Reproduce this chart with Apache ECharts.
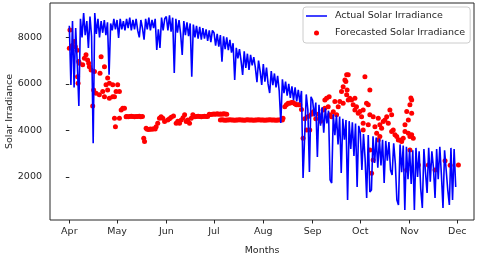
<!DOCTYPE html>
<html>
<head>
<meta charset="utf-8">
<script src="https://cdn.jsdelivr.net/npm/echarts@6/dist/echarts.min.js"></script>
<style>html,body{margin:0;padding:0;background:#fff}#c{width:480px;height:256px}</style>
</head>
<body>
<div id="c"></div>
<script>
// x values are days counted from 1 April
const monthTickDays = [0, 30, 61, 91, 122, 153, 183, 214, 244];
const monthTickLabels = ['Apr', 'May', 'Jun', 'Jul', 'Aug', 'Sep', 'Oct', 'Nov', 'Dec'];
const yTickValues = [2000, 4000, 6000, 8000];

// Actual Solar Irradiance, one value per day from 1 April to 30 November
const actualApr = [8500, 5950, 8700, 5850, 8400, 6900, 5050, 8800, 8000, 9050, 8100, 8700, 7550, 8900, 8050, 3450, 9050, 8150, 8800, 8000, 8700, 8200, 8750, 8100, 8650, 6400, 8600, 8300, 8800, 8350];
const actualMay = [8750, 7980, 8800, 8350, 8700, 8300, 8800, 8400, 8850, 8300, 8750, 8350, 8800, 8300, 8000, 8750, 8400, 7900, 8800, 8350, 8850, 8300, 8750, 8400, 8800, 7460, 8350, 7550, 8850, 8300, 8800];
const actualJun = [8900, 8300, 8950, 8250, 8850, 6470, 8800, 8200, 8750, 8150, 7250, 8700, 8100, 8650, 8050, 8600, 6310, 8550, 8000, 8500, 7950, 8450, 7900, 8400, 7950, 8350, 7850, 8300, 7800, 8300];
const actualJul = [8200, 7650, 8150, 7600, 8100, 6960, 8050, 7500, 8000, 7450, 7900, 7350, 7750, 6170, 7550, 7100, 7500, 7000, 6390, 7400, 6690, 7300, 6600, 7250, 6800, 7150, 6700, 6080, 7000, 6550, 5960];
const actualAug = [6850, 6100, 6700, 6000, 5610, 6550, 5950, 6450, 5850, 6350, 5700, 4320, 6200, 5600, 6100, 5500, 6000, 5400, 5900, 5300, 5850, 5250, 5750, 5200, 5700, 1960, 3720, 5550, 4900, 2215, 5450];
const actualSep = [5300, 4600, 5200, 2860, 5100, 4200, 5000, 3900, 4950, 4300, 4850, 1870, 1740, 4700, 3800, 4650, 3400, 4600, 2170, 4500, 3600, 4450, 1010, 4400, 3200, 4350, 2900, 4300, 1570, 4200];
const actualOct = [3900, 2300, 3850, 2800, 1100, 3800, 1350, 1440, 3750, 2600, 3700, 2400, 3650, 2500, 3600, 1740, 3550, 2700, 3500, 2300, 2090, 3450, 2600, 1010, 800, 3400, 2200, 3350, 580, 3300, 1900];
const actualNov = [3200, 1700, 3150, 580, 3250, 2000, 3100, 1500, 670, 3200, 2200, 1310, 3250, 1800, 3100, 2400, 1100, 3200, 1900, 3300, 2100, 670, 3150, 2300, 1440, 800, 3250, 1010, 3200, 1570];

// Forecasted Solar Irradiance points: day and value
const forecastDay = [
  0, 0.4, 1.9, 3.2, 3.8, 4.9, 5.2, 5.5, 5.9, 6.3, 8.4, 9.5, 10.5, 11.5, 12.2, 12.6, 13.7, 14.7, 15.3, 15.8,
  16.8, 18.9, 19.3, 20.0, 21.0, 22.1, 22.1, 23.1, 24.1, 24.1, 25.2, 25.2, 27.3, 27.3, 28.4, 28.4, 29.0, 29.4, 30.4, 31.5,
  31.5, 32.6, 33.6, 34.7, 35.7,
  36, 37, 38, 39, 40, 41, 42, 43, 44, 45, 46,
  46.8, 47.3, 48.3,
  49, 50, 51, 52, 53, 54,
  54.6, 55.6, 56.7, 57.7, 58.8, 59.9, 61.9, 63.0, 64.1, 65.5, 67.2, 68.2, 69.3, 70.4, 71.5, 72.5, 73.5, 74.5, 75.6, 76.7, 77.7,
  78, 79, 80, 81, 82, 83, 84, 85, 86, 87,
  88, 89, 90, 91, 92, 93, 94, 95, 96, 97, 98, 99,
  95, 96, 97, 98, 99, 100, 101, 102, 103, 104, 105, 106, 107, 108, 109, 110, 111, 112, 113, 114,
  115, 116, 117, 118, 119, 120, 121, 122, 123, 124, 125, 126, 127, 128, 129, 130, 131, 132, 133, 134,
  134.4, 135.5, 136.5, 137.6, 138.6, 139.7, 140.7, 141.8, 142.8, 143.9, 144.9, 146.0, 147.0, 148.1, 149.2, 150.2, 151.2, 152.3, 153.5, 155.0,
  156.5, 158.0, 159.6, 160.7, 160.7, 161.8, 162.8, 163.4, 163.8, 164.9, 166.0, 167.0, 168.1, 169.1, 170.1, 171.2, 172.2, 172.2, 173.3, 173.9,
  174.4, 174.4, 174.7, 175.4, 175.4, 176.4, 177.5, 178.5, 179.6, 179.6, 180.6, 181.7, 182.7, 183.8, 184.8, 184.8, 184.8, 185.9, 186.9, 188.0,
  188.0, 189.0, 189.0, 189.0, 190.1, 191.1, 191.1, 192.2, 193.3, 194.3, 194.3, 195.3, 195.3, 196.4, 197.4, 198.5, 199.6, 200.6, 201.6, 202.7,
  202.7, 203.7, 204.8, 205.9, 206.9, 207.9, 209.0, 210.0, 211.1, 211.1, 212.2, 212.2, 213.2, 213.2, 214.2, 214.2, 214.2, 214.8, 215.3, 215.3,
  215.3, 216.3, 219.5, 225.8, 230.0, 236.3, 239.5, 244.7
];
const forecastValue = [
  7530, 8320, 7650, 7820, 7600, 7450, 6310, 6030, 6960, 6890, 6820, 7100, 7250, 7030, 6890, 6740, 6600, 5050, 5740, 6530,
  5600, 5530, 6460, 7170, 5670, 6740, 5450, 5960, 6250, 5740, 6030, 5390, 5960, 5450, 5450, 4520, 4160, 5670, 5960, 5670,
  4520, 4880, 4960, 4960, 4590,
  4600, 4590, 4600, 4610, 4600, 4590, 4600, 4600, 4610, 4590, 4600,
  3660, 3520, 4090,
  4050, 4040, 4060, 4050, 4070, 4060,
  4160, 4310, 4520, 4590, 4520, 4380, 4450, 4500, 4570, 4620, 4310, 4400, 4310, 4450, 4550, 4670, 4380, 4450, 4310, 4520, 4670,
  4600, 4590, 4600, 4610, 4600, 4590, 4600, 4610, 4600, 4600,
  4700, 4690, 4700, 4710, 4700, 4720, 4700, 4710, 4700, 4720, 4710, 4700,
  4450, 4460, 4450, 4440, 4450, 4450, 4460, 4450, 4450, 4440, 4450, 4450, 4460, 4450, 4450, 4440, 4450, 4460, 4450, 4450,
  4450, 4440, 4450, 4450, 4460, 4450, 4450, 4450, 4440, 4450, 4450, 4460, 4450, 4450, 4450, 4440, 4450, 4450, 4460, 4450,
  4520, 5020, 5100, 5170, 5170, 5200, 5200, 5150, 5100, 5100, 5100, 4900, 3660, 4500, 4020, 4600, 4020, 4700, 4800, 4500,
  4700, 4400, 4880, 5310, 4960, 5380, 5020, 5450, 4670, 4590, 4800, 5240, 4670, 5020, 5240, 5670, 5880, 5170, 6170, 6100,
  6390, 5530, 5740, 6390, 5310, 5380, 5310, 5100, 5380, 4880, 5020, 4740, 4810, 4590, 4310, 4880, 4020, 6310, 5170, 5100,
  4240, 5740, 4670, 3160, 2160, 4590, 2730, 4160, 3880, 4520, 3590, 4240, 3740, 4090, 4380, 4450, 4590, 4310, 4880, 4670,
  3950, 4020, 3810, 3740, 3590, 3590, 3520, 3660, 4240, 3950, 4810, 2300, 4450, 3880, 5100, 3740, 3160, 5400, 5310, 4740,
  3810, 3660, 2520, 2520, 2300, 2700, 2500, 2520
];

const actualValues = [].concat(actualApr, actualMay, actualJun, actualJul, actualAug, actualSep, actualOct, actualNov);
const actualData = actualValues.map((v, i) => [i, v]);
const forecastData = forecastDay.map((d, i) => [d, forecastValue[i]]);

const FONT = 'DejaVu Sans';
const TXT = '#262626';
const chart = echarts.init(document.getElementById('c'), null, {renderer: 'canvas'});
chart.setOption({
  animation: false,
  backgroundColor: '#ffffff',
  grid: {left: 50, right: 6, top: 3, bottom: 36, containLabel: false, outerBoundsMode: 'none',
    show: true, borderColor: '#262626', borderWidth: 1, backgroundColor: 'transparent'},
  legend: {
    orient: 'vertical', left: 303, top: 7,
    data: [
      {name: 'Actual Solar Irradiance', icon: 'path://M0,0H21V1.5H0Z'},
      {name: 'Forecasted Solar Irradiance', icon: 'circle'}
    ],
    itemWidth: 21, itemHeight: 5, itemGap: 6,
    padding: [3.5, 5, 4.5, 3],
    backgroundColor: 'rgba(255,255,255,0.85)', borderColor: '#cccccc', borderWidth: 1, borderRadius: 3,
    textStyle: {fontFamily: FONT, fontSize: 9.5, color: TXT, lineHeight: 11, padding: [0, 0, 0, 3]}
  },
  xAxis: {
    type: 'value', min: -12.15, max: 254.5,
    name: 'Months', nameLocation: 'middle', nameGap: 26,
    nameTextStyle: {fontFamily: FONT, fontSize: 9.5, color: TXT},
    axisLine: {show: false},
    axisTick: {show: true, length: 3.5, customValues: monthTickDays, lineStyle: {color: '#262626'}},
    axisLabel: {customValues: monthTickDays, margin: 7, fontFamily: FONT, fontSize: 9.5, color: TXT,
      formatter: v => monthTickLabels[monthTickDays.indexOf(v)] || ''},
    splitLine: {show: false}
  },
  yAxis: {
    type: 'value', min: 150, max: 9480,
    name: 'Solar Irradiance', nameLocation: 'middle', nameGap: 35, nameMoveOverlap: false,
    nameTextStyle: {fontFamily: FONT, fontSize: 9.5, color: TXT},
    axisLine: {show: false},
    axisTick: {show: true, length: 3.5, customValues: yTickValues, lineStyle: {color: '#262626'}},
    axisLabel: {customValues: yTickValues, margin: 8, fontFamily: FONT, fontSize: 9.5, color: TXT,
      formatter: v => String(v)},
    splitLine: {show: false}
  },
  series: [
    {
      name: 'Forecasted Solar Irradiance', type: 'scatter', data: forecastData,
      symbol: 'circle', symbolSize: 5, itemStyle: {color: '#ff0000', opacity: 1}, z: 2
    },
    {
      name: 'Actual Solar Irradiance', type: 'line', data: actualData,
      symbol: 'none', showSymbol: false, lineStyle: {color: '#0000ff', width: 1.6}, itemStyle: {color: '#0000ff'}, z: 3
    }
  ]
});
</script>
</body>
</html>
